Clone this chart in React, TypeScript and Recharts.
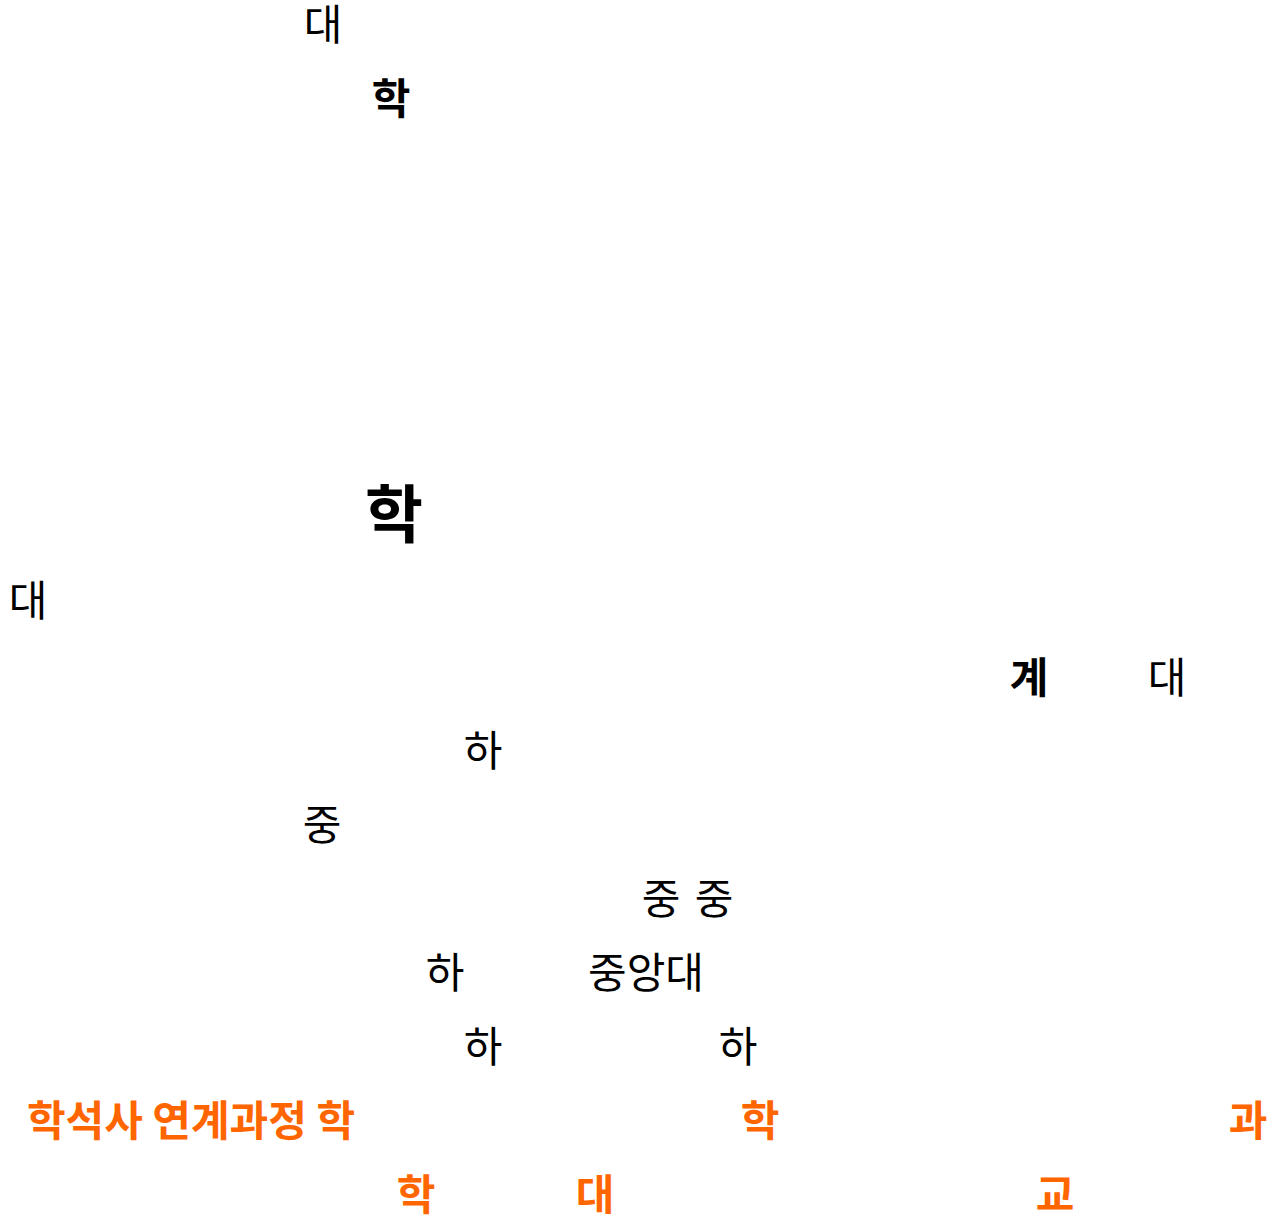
import React from 'react';
import { ScatterChart, Scatter, XAxis, YAxis } from 'recharts';

// words as they sit on the canvas
const words = [
  '대', '학', '학', '대', '계', '대', '하', '중', '중', '중',
  '하', '중앙대', '하', '하', '학석사 연계과정 학', '학', '과', '학', '대', '교',
];

const xPos = [323, 391, 394, 28, 1029, 1167, 483, 322, 661, 714, 445, 646, 483, 738, 191, 760, 1248, 416, 595, 1055];

const yPos = [24, 98, 514, 600, 677, 677, 750, 824, 898, 898, 972, 972, 1046, 1046, 1120, 1120, 1120, 1194, 1194, 1194];

// plain / bold / big / accent
const kinds = [
  'plain', 'bold', 'big', 'plain', 'bold', 'plain', 'plain', 'plain', 'plain', 'plain',
  'plain', 'plain', 'plain', 'plain', 'accent', 'accent', 'accent', 'accent', 'accent', 'accent',
];

const STYLES: Record<string, { size: number; weight: number; color: string }> = {
  plain: { size: 42, weight: 400, color: '#000000' },
  bold: { size: 42, weight: 700, color: '#000000' },
  big: { size: 63, weight: 700, color: '#000000' },
  accent: { size: 42, weight: 700, color: '#ff6600' },
};

const data = words.map((w, i) => ({ word: w, x: xPos[i], y: yPos[i], kind: kinds[i] }));

const Word = (props: any) => {
  const { cx, cy, payload } = props;
  const s = STYLES[payload.kind];
  return (
    <text
      x={cx}
      y={cy}
      dy="-0.07em"
      textAnchor="middle"
      dominantBaseline="central"
      fontSize={s.size}
      fontWeight={s.weight}
      fill={s.color}
      fontFamily="'Noto Sans CJK KR', sans-serif"
    >
      {payload.word}
    </text>
  );
};

const App = () => {
  return (
    <div style={{ position: 'absolute', left: 0, top: 0, background: '#fff' }}>
      <ScatterChart width={1274} height={1219} margin={{ top: 0, right: 0, bottom: 0, left: 0 }}>
        <XAxis type="number" dataKey="x" domain={[0, 1274]} hide />
        <YAxis type="number" dataKey="y" domain={[0, 1219]} reversed hide />
        <Scatter data={data} shape={<Word />} isAnimationActive={false} />
      </ScatterChart>
    </div>
  );
};

export default App;
